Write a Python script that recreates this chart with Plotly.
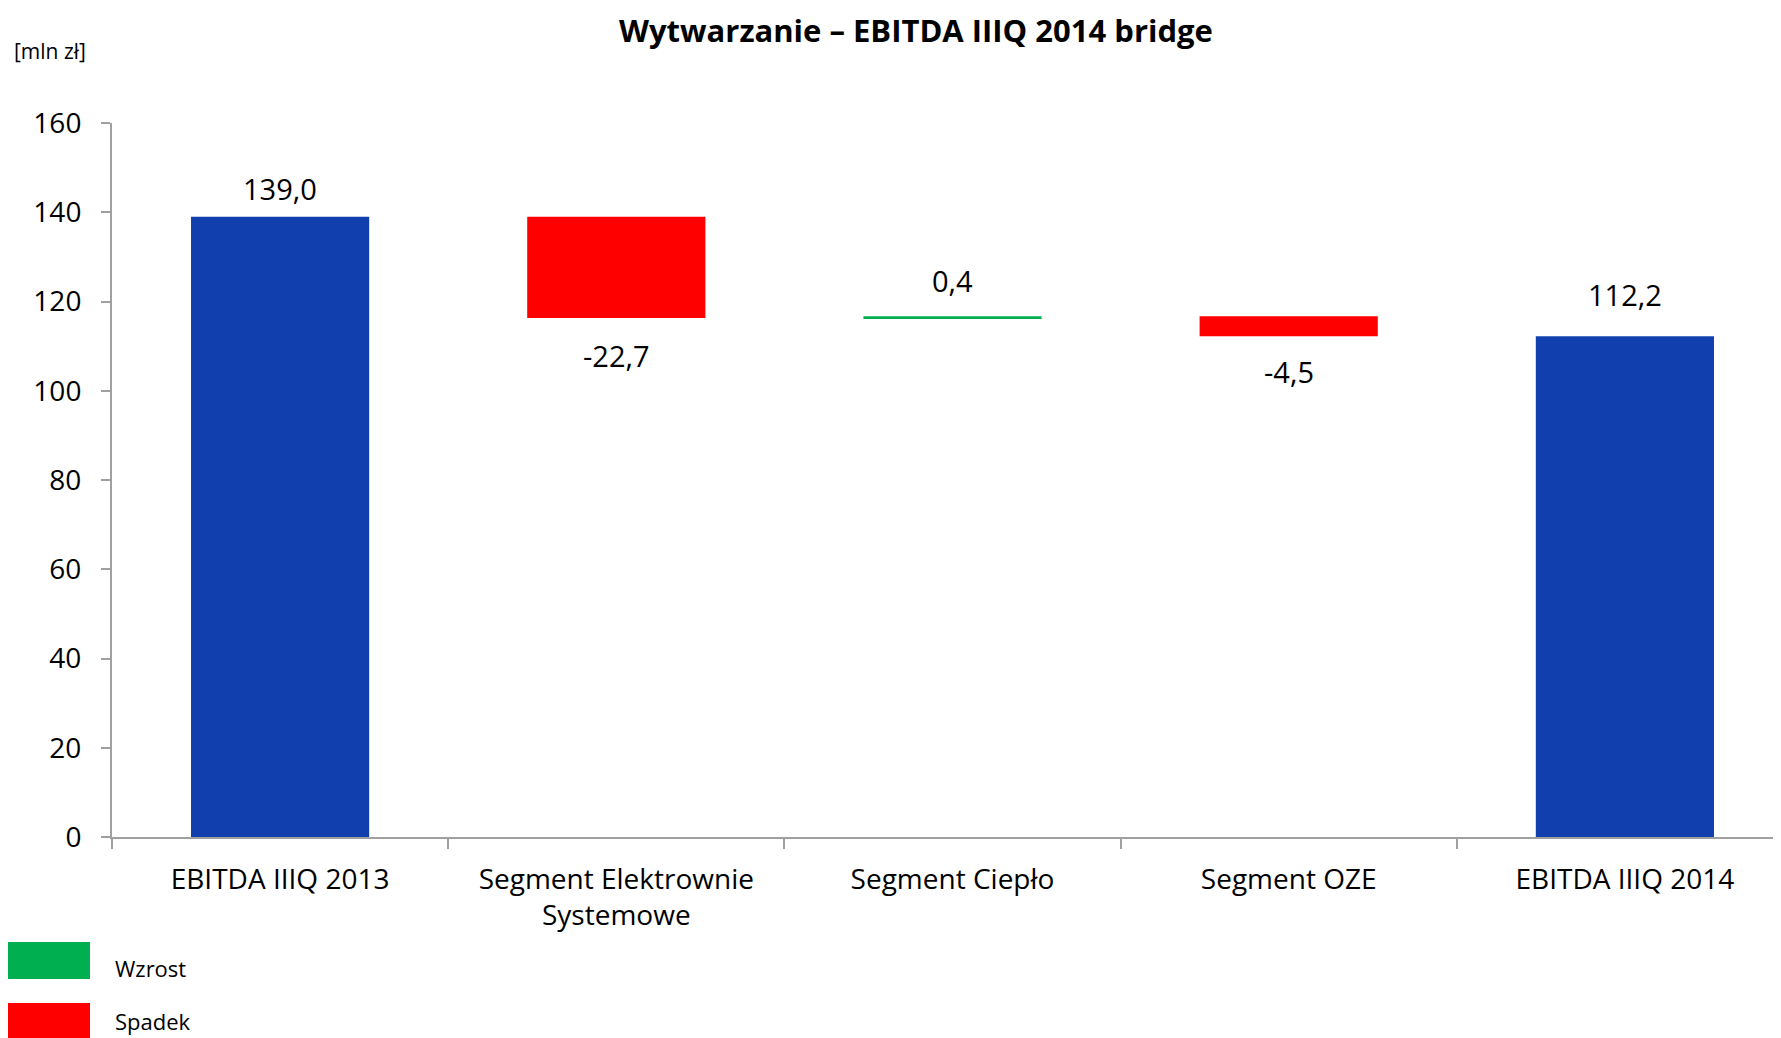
import plotly.graph_objects as go

# ---- data ----
categories = ["EBITDA IIIQ 2013", "Segment Elektrownie<br>Systemowe", "Segment Ciepło",
              "Segment OZE", "EBITDA IIIQ 2014"]
values = [139.0, -22.7, 0.4, -4.5, 112.2]
measures = ["absolute", "relative", "relative", "relative", "total"]
y_ticks = [0, 20, 40, 60, 80, 100, 120, 140, 160]
legend_labels = ["Wzrost", "Spadek"]
title_text = "Wytwarzanie – EBITDA IIIQ 2014 bridge"
unit_text = "[mln zł]"

# ---- style ----
BLUE = "#1140AE"
RED = "#FF0000"
GREEN = "#00B050"
AXIS = "#A0A0A0"
FONT = "Open Sans"

OFF = 8  # page body margin
PAGE_W, PAGE_H = 1781, 1038
W, H = PAGE_W - OFF, PAGE_H - OFF
PLOT_L, PLOT_T, PLOT_B = 112, 123, 837  # in page pixels
L, T = PLOT_L - OFF, PLOT_T - OFF
R = 0
B = H - (PLOT_B - OFF)
PW, PH = W - L - R, H - T - B

fig = go.Figure(go.Waterfall(
    x=categories, y=values, measure=measures,
    width=0.53,
    increasing=dict(marker=dict(color=GREEN, line=dict(width=0))),
    decreasing=dict(marker=dict(color=RED, line=dict(width=0))),
    totals=dict(marker=dict(color=BLUE, line=dict(width=0))),
    connector=dict(visible=False),
    hoverinfo="skip",
))

# data labels: compute bar ends from the data
label_offset = [28, -37, 36, -35, 42]  # px, above(+)/below(-) bar end
running = 0.0
for i, (c, v, m) in enumerate(zip(categories, values, measures)):
    if m == "absolute":
        start, end = 0.0, v
        running = v
    elif m == "relative":
        start, end = running, running + v
        running = end
    else:
        start, end = 0.0, running
    anchor_y = max(start, end) if label_offset[i] > 0 else min(start, end)
    txt = f"{v:.1f}".replace(".", ",")
    fig.add_annotation(x=c, y=anchor_y, xref="x", yref="y", text=txt,
                       showarrow=False, yshift=label_offset[i], yanchor="middle",
                       font=dict(family=FONT, size=29, color="#000000"))


def px_x(px):
    return (px - PLOT_L) / PW


def px_y(py):
    return (PLOT_B - py) / PH


# title & unit
fig.add_annotation(x=px_x(916), y=px_y(30), xref="paper", yref="paper", text=f"<b>{title_text}</b>",
                   showarrow=False, xanchor="center", yanchor="middle", borderpad=0,
                   font=dict(family=FONT, size=31, color="#000000"))
fig.add_annotation(x=px_x(12), y=px_y(51), xref="paper", yref="paper", text=unit_text,
                   showarrow=False, xanchor="left", yanchor="middle",
                   font=dict(family=FONT, size=21, color="#000000"))

# legend (custom)
leg_colors = [GREEN, RED]
leg_rows = [(942, 979, 968), (1003, 1040, 1021)]
for lab, col, (y0, y1, yc) in zip(legend_labels, leg_colors, leg_rows):
    fig.add_shape(type="rect", xref="paper", yref="paper",
                  x0=px_x(5), x1=px_x(90), y0=px_y(y1), y1=px_y(y0),
                  fillcolor=col, line=dict(width=0), layer="above")
    fig.add_annotation(x=px_x(113), y=px_y(yc), xref="paper", yref="paper", text=lab,
                       showarrow=False, xanchor="left", yanchor="middle",
                       font=dict(family=FONT, size=22, color="#000000"))

fig.update_layout(
    width=W, height=H,
    margin=dict(l=L, r=R, t=T, b=B, autoexpand=False),
    paper_bgcolor="white", plot_bgcolor="white",
    showlegend=False,
    font=dict(family=FONT, size=28, color="#000000"),
)
fig.update_xaxes(
    range=[-0.5, -0.5 + PW / 336.2],
    showline=True, linecolor=AXIS, linewidth=2,
    ticks="outside", tickson="boundaries", ticklen=10, tickcolor=AXIS, tickwidth=2,
    showgrid=False, zeroline=False,
    tickfont=dict(family=FONT, size=28, color="#000000"),
    ticklabelstandoff=16,
)
fig.update_yaxes(
    range=[0, 160], tickvals=y_ticks, ticktext=[str(t) for t in y_ticks],
    showline=True, linecolor=AXIS, linewidth=2,
    ticks="outside", ticklen=9, tickcolor=AXIS, tickwidth=2,
    showgrid=False, zeroline=False,
    tickfont=dict(family=FONT, size=28, color="#000000"),
    ticklabelstandoff=14,
)

fig.write_html("out.html")
